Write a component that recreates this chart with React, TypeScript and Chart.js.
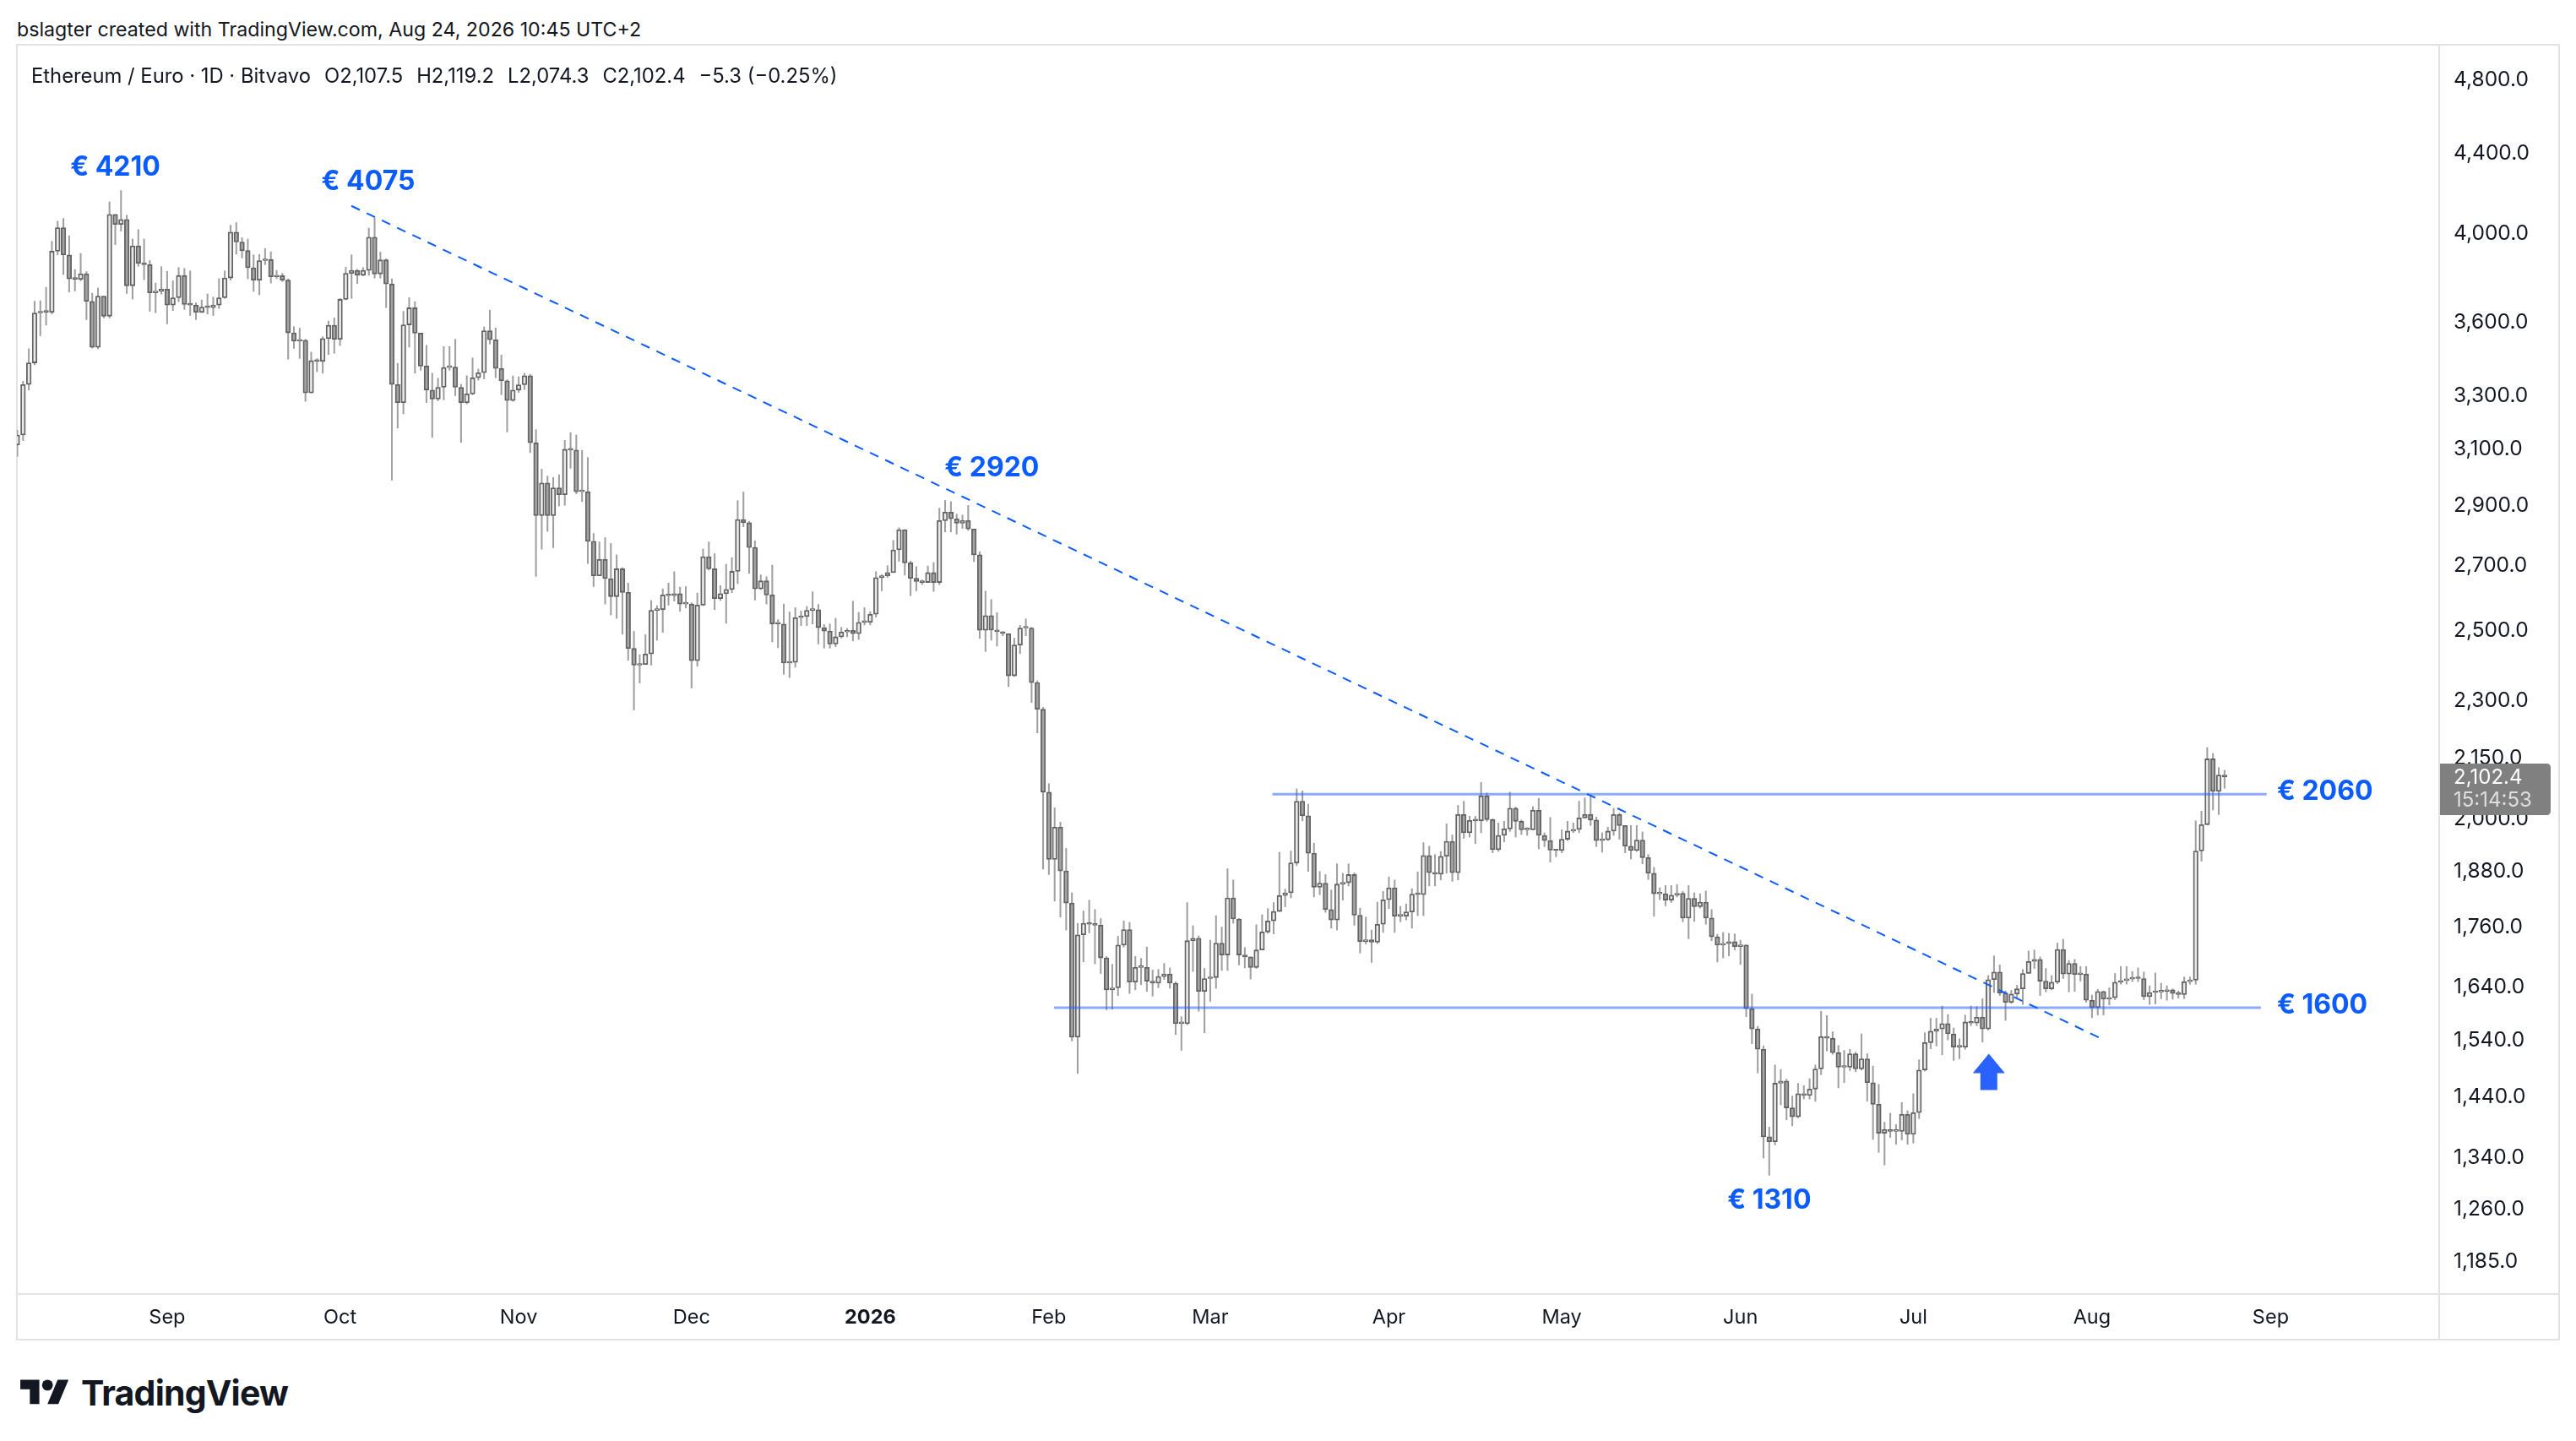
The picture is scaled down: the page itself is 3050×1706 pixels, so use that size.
import React, { useEffect, useRef } from 'react';
import { Chart, registerables } from 'chart.js';

Chart.register(...registerables);

// ---------- DATA (daily candles, Aug 6 2025 = index 0 ... Aug 24 2026 = index 383) ----------
const firstOpen = 3115;

const closes = [
  3152, 3346, 3433, 3642, 3648, 3645, 3918, 4029, 3901, 3792,
  3790, 3815, 3692, 3497, 3715, 3628, 4093, 4044, 4068, 3761,
  3943, 3862, 3856, 3730, 3736, 3746, 3676, 3708, 3807, 3679,
  3676, 3645, 3667, 3665, 3676, 3708, 3796, 4008, 3961, 3921,
  3842, 3786, 3875, 3880, 3801, 3806, 3786, 3557, 3522, 3526,
  3313, 3442, 3439, 3533, 3589, 3530, 3701, 3817, 3830, 3808,
  3830, 3984, 3814, 3878, 3769, 3346, 3275, 3591, 3664, 3556,
  3420, 3324, 3289, 3335, 3414, 3416, 3335, 3275, 3309, 3373,
  3393, 3566, 3528, 3410, 3361, 3283, 3324, 3345, 3381, 3123,
  2865, 2978, 2865, 2961, 2937, 3099, 3096, 2947, 2947, 2779,
  2668, 2720, 2659, 2603, 2690, 2616, 2448, 2400, 2402, 2432,
  2561, 2563, 2608, 2606, 2612, 2580, 2580, 2413, 2577, 2729,
  2690, 2597, 2612, 2625, 2682, 2852, 2841, 2759, 2627, 2652,
  2608, 2520, 2520, 2406, 2408, 2539, 2542, 2561, 2563, 2509,
  2499, 2461, 2482, 2496, 2501, 2491, 2525, 2525, 2549, 2662,
  2668, 2678, 2751, 2818, 2709, 2660, 2650, 2647, 2678, 2647,
  2848, 2877, 2854, 2839, 2848, 2820, 2735, 2501, 2545, 2502,
  2497, 2491, 2370, 2458, 2508, 2508, 2351, 2278, 2065, 1907,
  1981, 1881, 1811, 1545, 1744, 1768, 1766, 1764, 1697, 1634,
  1638, 1723, 1755, 1649, 1678, 1678, 1651, 1647, 1660, 1665,
  1647, 1570, 1570, 1732, 1737, 1631, 1656, 1658, 1727, 1703,
  1822, 1777, 1703, 1699, 1678, 1713, 1750, 1773, 1793, 1827,
  1833, 1899, 2043, 2008, 1921, 1845, 1854, 1797, 1775, 1852,
  1855, 1873, 1785, 1730, 1734, 1729, 1766, 1818, 1844, 1783,
  1783, 1792, 1830, 1829, 1916, 1877, 1874, 1914, 1948, 1877,
  2011, 1968, 1997, 1996, 2056, 1999, 1929, 1962, 1977, 2026,
  1995, 1975, 1975, 2021, 1962, 1950, 1928, 1927, 1953, 1972,
  1976, 2003, 2011, 1998, 1950, 1952, 1972, 2011, 1985, 1937,
  1927, 1951, 1911, 1876, 1831, 1831, 1817, 1828, 1832, 1779,
  1821, 1803, 1813, 1779, 1740, 1723, 1726, 1730, 1720, 1723,
  1598, 1560, 1523, 1373, 1365, 1463, 1467, 1421, 1406, 1445,
  1442, 1453, 1488, 1546, 1543, 1517, 1491, 1491, 1515, 1488,
  1506, 1464, 1427, 1379, 1385, 1382, 1382, 1410, 1377, 1413,
  1486, 1535, 1556, 1560, 1570, 1551, 1527, 1527, 1573, 1571,
  1582, 1560, 1654, 1669, 1628, 1610, 1626, 1636, 1666, 1690,
  1694, 1651, 1636, 1649, 1714, 1665, 1686, 1664, 1665, 1614,
  1600, 1631, 1616, 1619, 1649, 1652, 1655, 1658, 1656, 1621,
  1629, 1630, 1631, 1634, 1627, 1625, 1650, 1653, 1926, 1987,
  2148, 2067, 2107.5, 2102.4,
];

const highs = [
  3170, 3359, 3491, 3693, 3695, 3755, 3964, 4060, 4073, 3990,
  3834, 3908, 3825, 3728, 3751, 3714, 4154, 4093, 4210, 4089,
  3975, 4020, 3975, 3875, 3773, 3847, 3826, 3783, 3843, 3839,
  3828, 3686, 3698, 3725, 3711, 3793, 3828, 4041, 4053, 3981,
  3975, 3901, 3903, 3931, 3915, 3830, 3817, 3792, 3583, 3577,
  3530, 3477, 3450, 3541, 3607, 3621, 3705, 3845, 3901, 3835,
  3843, 4027, 4075, 3914, 3883, 3792, 3431, 3649, 3709, 3691,
  3505, 3505, 3391, 3371, 3500, 3500, 3530, 3347, 3381, 3453,
  3408, 3582, 3654, 3578, 3465, 3365, 3380, 3377, 3391, 3387,
  3172, 3027, 3002, 2997, 3007, 3132, 3161, 3152, 3095, 3069,
  2805, 2777, 2791, 2772, 2735, 2694, 2645, 2498, 2430, 2488,
  2591, 2575, 2627, 2645, 2681, 2632, 2634, 2584, 2614, 2754,
  2777, 2739, 2637, 2705, 2726, 2916, 2946, 2846, 2781, 2671,
  2665, 2702, 2533, 2580, 2556, 2569, 2559, 2573, 2618, 2579,
  2518, 2520, 2537, 2510, 2507, 2589, 2555, 2569, 2557, 2681,
  2672, 2700, 2782, 2824, 2818, 2715, 2697, 2655, 2699, 2710,
  2890, 2917, 2913, 2870, 2867, 2900, 2820, 2745, 2620, 2594,
  2554, 2497, 2491, 2478, 2516, 2535, 2510, 2356, 2283, 2086,
  2027, 1993, 1932, 1833, 1768, 1794, 1817, 1797, 1778, 1700,
  1684, 1741, 1773, 1770, 1700, 1696, 1719, 1673, 1674, 1686,
  1677, 1650, 1583, 1812, 1763, 1742, 1676, 1733, 1784, 1760,
  1886, 1861, 1778, 1718, 1699, 1765, 1786, 1799, 1812, 1923,
  1841, 1926, 2073, 2068, 2036, 1944, 1880, 1873, 1839, 1897,
  1876, 1897, 1877, 1800, 1781, 1754, 1813, 1836, 1868, 1861,
  1804, 1809, 1842, 1879, 1945, 1937, 1918, 1925, 1989, 1963,
  2033, 2043, 2007, 2007, 2089, 2063, 2001, 1991, 1995, 2065,
  2029, 1998, 1980, 2030, 2050, 1968, 2004, 1930, 1975, 1995,
  1991, 2043, 2051, 2057, 2005, 1968, 1981, 2026, 2014, 1985,
  1985, 1985, 1970, 1918, 1889, 1844, 1849, 1849, 1851, 1836,
  1849, 1833, 1831, 1837, 1797, 1745, 1749, 1747, 1746, 1733,
  1724, 1626, 1565, 1529, 1389, 1495, 1487, 1470, 1441, 1463,
  1459, 1471, 1495, 1593, 1585, 1555, 1530, 1521, 1523, 1518,
  1551, 1515, 1493, 1461, 1397, 1412, 1393, 1430, 1416, 1445,
  1504, 1553, 1580, 1580, 1603, 1587, 1562, 1542, 1586, 1603,
  1602, 1617, 1662, 1701, 1683, 1632, 1633, 1643, 1674, 1711,
  1713, 1699, 1676, 1662, 1727, 1735, 1692, 1694, 1680, 1680,
  1624, 1635, 1632, 1638, 1666, 1680, 1680, 1670, 1677, 1669,
  1642, 1667, 1647, 1642, 1636, 1632, 1659, 1659, 1996, 2019,
  2177, 2162, 2126, 2119.2,
];

const lows = [
  3073, 3131, 3324, 3425, 3545, 3590, 3637, 3901, 3811, 3733,
  3738, 3783, 3613, 3493, 3490, 3620, 3620, 3949, 4012, 3727,
  3702, 3849, 3788, 3649, 3643, 3724, 3595, 3652, 3691, 3657,
  3631, 3613, 3643, 3637, 3631, 3661, 3705, 3786, 3904, 3887,
  3792, 3736, 3721, 3856, 3773, 3792, 3780, 3448, 3492, 3451,
  3280, 3313, 3397, 3391, 3467, 3472, 3504, 3699, 3705, 3771,
  3805, 3808, 3795, 3795, 3665, 2988, 3178, 3232, 3497, 3391,
  3403, 3275, 3143, 3282, 3286, 3403, 3302, 3124, 3270, 3306,
  3363, 3368, 3510, 3373, 3306, 3163, 3280, 3315, 3326, 3087,
  2666, 2753, 2812, 2758, 2898, 2900, 3030, 2940, 2913, 2707,
  2634, 2671, 2580, 2547, 2537, 2490, 2414, 2276, 2350, 2402,
  2400, 2472, 2495, 2577, 2589, 2558, 2568, 2336, 2397, 2575,
  2686, 2563, 2591, 2522, 2615, 2643, 2827, 2676, 2592, 2625,
  2580, 2467, 2450, 2374, 2365, 2394, 2515, 2515, 2520, 2461,
  2449, 2449, 2453, 2478, 2482, 2470, 2474, 2517, 2517, 2540,
  2621, 2663, 2678, 2714, 2670, 2606, 2621, 2640, 2647, 2619,
  2640, 2810, 2810, 2803, 2822, 2815, 2713, 2477, 2439, 2472,
  2455, 2485, 2340, 2368, 2433, 2485, 2296, 2215, 1885, 1873,
  1815, 1781, 1754, 1538, 1480, 1689, 1748, 1685, 1666, 1596,
  1597, 1623, 1719, 1627, 1634, 1644, 1631, 1622, 1638, 1654,
  1637, 1550, 1521, 1568, 1670, 1593, 1553, 1612, 1637, 1672,
  1672, 1768, 1683, 1677, 1655, 1676, 1725, 1747, 1746, 1795,
  1803, 1822, 1893, 1996, 1880, 1824, 1829, 1791, 1758, 1754,
  1817, 1848, 1764, 1707, 1725, 1688, 1726, 1749, 1799, 1749,
  1771, 1775, 1758, 1784, 1784, 1848, 1848, 1861, 1876, 1858,
  1861, 1955, 1958, 1943, 1968, 1995, 1922, 1925, 1947, 1971,
  1958, 1964, 1962, 1975, 1931, 1936, 1901, 1913, 1922, 1950,
  1968, 1968, 2003, 1985, 1936, 1923, 1950, 1962, 1953, 1922,
  1908, 1925, 1897, 1862, 1783, 1818, 1805, 1812, 1824, 1771,
  1736, 1772, 1800, 1766, 1732, 1689, 1697, 1701, 1713, 1684,
  1583, 1533, 1481, 1339, 1312, 1360, 1426, 1401, 1391, 1404,
  1436, 1436, 1432, 1478, 1520, 1514, 1455, 1464, 1485, 1483,
  1486, 1432, 1369, 1348, 1328, 1372, 1361, 1368, 1361, 1363,
  1403, 1484, 1524, 1529, 1513, 1540, 1503, 1506, 1523, 1566,
  1566, 1536, 1558, 1629, 1623, 1576, 1608, 1619, 1606, 1666,
  1676, 1623, 1630, 1634, 1646, 1656, 1630, 1631, 1651, 1610,
  1581, 1586, 1586, 1605, 1615, 1645, 1645, 1650, 1650, 1615,
  1606, 1607, 1617, 1614, 1616, 1618, 1617, 1645, 1645, 1903,
  1987, 2022, 2011, 2074.3,
];

const monthTickIndex = [26, 56, 87, 117, 148, 179, 207, 238, 268, 299, 329, 360, 391];
const monthTickLabel = ['Sep', 'Oct', 'Nov', 'Dec', '2026', 'Feb', 'Mar', 'Apr', 'May', 'Jun', 'Jul', 'Aug', 'Sep'];

const priceTicks = [4800, 4400, 4000, 3600, 3300, 3100, 2900, 2700, 2500, 2300, 2150, 2000, 1880, 1760, 1640, 1540, 1440, 1340, 1260, 1185];

// horizontal levels
const levelPrice = [2060, 1600];
const levelFrom = [217.8, 179.9];
const levelTo = [390.3, 389.3];

// dashed trend line (index, price)
const trendIdx = [57.97, 361.9];
const trendPrice = [4134, 1541];

// text notes (anchor index / price)
const noteText = ['€ 4210', '€ 4075', '€ 2920', '€ 1310', '€ 2060', '€ 1600'];
const noteIdx = [17.0, 60.9, 169.1, 304.0, 392.1, 392.1];
const notePrice = [4324, 4251, 3029, 1273, 2065, 1604];
const noteAlign = ['center', 'center', 'center', 'center', 'left', 'left'];

const arrowIdx = 342.1;
const arrowTipPrice = 1515;

const lastPrice = 2102.4;
const countdown = '15:14:53';

// ---------- STYLE ----------
const BLUE_TEXT = '#0a5cff';
const BLUE_LINE = 'rgba(41,98,255,0.55)';
const ARROW = '#2962ff';
const UP_FILL = '#e9e9e9';
const DOWN_FILL = '#a3a3a3';
const CANDLE_BORDER = '#626262';
const WICK = '#a0a0a0';
const AXIS_TEXT = '#131722';
const SEP = '#e3e3e6';
const FONT = 'Inter, "Noto Sans", sans-serif';

const fmtPrice = (v: number) =>
  v.toLocaleString('en-US', { minimumFractionDigits: 1, maximumFractionDigits: 1 });

export default function App() {
  const canvasRef = useRef<HTMLCanvasElement | null>(null);

  useEffect(() => {
    document.body.style.margin = '0';
    const canvas = canvasRef.current;
    if (!canvas) return;

    const opens = closes.map((_, i) => (i === 0 ? firstOpen : closes[i - 1]));
    const bodyData = closes.map((c, i) => ({ x: i, y: [opens[i], c] }));
    const wickData = closes.map((c, i) => ({
      x: i,
      y: [Math.min(lows[i], opens[i], c), Math.max(highs[i], opens[i], c)],
    }));

    const levelSets = levelPrice.map((p, k) => ({
      type: 'line' as const,
      data: [
        { x: levelFrom[k], y: p },
        { x: levelTo[k], y: p },
      ],
      borderColor: BLUE_LINE,
      borderWidth: 3,
      pointRadius: 0,
      order: 1,
    }));

    const overlay = {
      id: 'overlay',
      afterDatasetsDraw(chart: any) {
        const ctx = chart.ctx;
        const xs = chart.scales.x;
        const ys = chart.scales.y;
        ctx.save();
        ctx.fillStyle = BLUE_TEXT;
        ctx.font = `700 32px ${FONT}`;
        ctx.textBaseline = 'middle';
        noteText.forEach((t, k) => {
          ctx.textAlign = noteAlign[k] as CanvasTextAlign;
          ctx.fillText(t, xs.getPixelForValue(noteIdx[k]), ys.getPixelForValue(notePrice[k]));
        });
        const ax = xs.getPixelForValue(arrowIdx);
        const ay = ys.getPixelForValue(arrowTipPrice);
        ctx.fillStyle = ARROW;
        ctx.beginPath();
        ctx.moveTo(ax, ay);
        ctx.lineTo(ax + 19, ay + 23);
        ctx.lineTo(ax + 10, ay + 23);
        ctx.lineTo(ax + 10, ay + 43);
        ctx.lineTo(ax - 10, ay + 43);
        ctx.lineTo(ax - 10, ay + 23);
        ctx.lineTo(ax - 19, ay + 23);
        ctx.closePath();
        ctx.fill();
        ctx.restore();
      },
      afterDraw(chart: any) {
        const ctx = chart.ctx;
        const ca = chart.chartArea;
        const ys = chart.scales.y;
        ctx.save();
        ctx.strokeStyle = SEP;
        ctx.lineWidth = 2;
        ctx.beginPath();
        ctx.moveTo(ca.right + 1, 0);
        ctx.lineTo(ca.right + 1, chart.height);
        ctx.moveTo(0, ca.bottom + 1);
        ctx.lineTo(chart.width, ca.bottom + 1);
        ctx.stroke();
        const y = ys.getPixelForValue(lastPrice);
        const x0 = ca.right + 2;
        const w = 131;
        const top = y - 16;
        const h = 61;
        const r = 5;
        ctx.fillStyle = '#808080';
        ctx.beginPath();
        ctx.moveTo(x0, top);
        ctx.lineTo(x0 + w - r, top);
        ctx.quadraticCurveTo(x0 + w, top, x0 + w, top + r);
        ctx.lineTo(x0 + w, top + h - r);
        ctx.quadraticCurveTo(x0 + w, top + h, x0 + w - r, top + h);
        ctx.lineTo(x0, top + h);
        ctx.closePath();
        ctx.fill();
        ctx.font = `400 24px ${FONT}`;
        ctx.textAlign = 'left';
        ctx.textBaseline = 'middle';
        ctx.fillStyle = '#ffffff';
        ctx.fillText(fmtPrice(lastPrice), ca.right + 18, y + 1);
        ctx.fillStyle = '#dedede';
        ctx.fillText(countdown, ca.right + 18, y + 28);
        ctx.restore();
      },
    };

    const chart = new Chart(canvas, {
      type: 'bar',
      data: {
        datasets: [
          {
            type: 'bar',
            data: wickData as any,
            backgroundColor: WICK,
            borderWidth: 0,
            barThickness: 1.4,
            grouped: false,
            order: 4,
          } as any,
          {
            type: 'bar',
            data: bodyData as any,
            backgroundColor: (c: any) =>
              closes[c.dataIndex] >= opens[c.dataIndex] ? UP_FILL : DOWN_FILL,
            borderColor: CANDLE_BORDER,
            borderWidth: 1.8,
            borderSkipped: false,
            barThickness: 5.6,
            minBarLength: 2,
            grouped: false,
            order: 3,
          } as any,
          ...levelSets,
          {
            type: 'line',
            data: [
              { x: trendIdx[0], y: trendPrice[0] },
              { x: trendIdx[1], y: trendPrice[1] },
            ],
            borderColor: BLUE_TEXT,
            borderWidth: 2,
            borderDash: [11, 9],
            pointRadius: 0,
            order: 0,
          } as any,
        ],
      },
      options: {
        animation: false,
        responsive: false,
        maintainAspectRatio: false,
        layout: { padding: 0 },
        plugins: { legend: { display: false }, tooltip: { enabled: false } },
        scales: {
          x: {
            type: 'linear',
            min: -0.07,
            max: 420.1,
            offset: false,
            grid: { display: false, drawTicks: false },
            border: { display: false },
            afterBuildTicks: (s: any) => {
              s.ticks = monthTickIndex.map((v) => ({ value: v }));
            },
            afterFit: (s: any) => {
              s.height = 55;
              s.paddingLeft = 0;
              s.paddingRight = 0;
              s.paddingTop = 0;
              s.paddingBottom = 0;
            },
            ticks: {
              autoSkip: false,
              maxRotation: 0,
              padding: 15,
              color: AXIS_TEXT,
              font: (c: any) => ({
                family: FONT,
                size: 23.5,
                weight: c.tick && c.tick.label === '2026' ? 'bold' : 'normal',
              }),
              callback: (_v: any, i: number) => monthTickLabel[i],
            },
          },
          y: {
            type: 'logarithmic',
            position: 'right',
            min: 1141,
            max: 4998,
            bounds: 'data',
            grid: { display: false, drawTicks: false },
            border: { display: false },
            afterBuildTicks: (s: any) => {
              s.ticks = priceTicks.map((v) => ({ value: v }));
            },
            afterFit: (s: any) => {
              s.width = 143;
              s.paddingTop = 0;
              s.paddingBottom = 0;
              s.paddingLeft = 0;
              s.paddingRight = 0;
            },
            ticks: {
              autoSkip: false,
              padding: 18,
              color: AXIS_TEXT,
              font: { family: FONT, size: 24.5 },
              callback: (v: any) => fmtPrice(Number(v)),
            },
          },
        },
      } as any,
      plugins: [overlay],
    });

    return () => chart.destroy();
  }, []);

  return (
    <div style={{ position: 'absolute', left: 0, top: 0, width: 3050, height: 1706, background: '#ffffff', overflow: 'hidden', fontFamily: FONT }}>
      <div style={{ position: 'absolute', left: 20, top: 21, fontSize: 23.2, lineHeight: '28px', color: AXIS_TEXT, whiteSpace: 'nowrap' }}>
        bslagter created with TradingView.com, Aug 24, 2026 10:45 UTC+2
      </div>
      <div style={{ position: 'absolute', left: 19, top: 52, width: 3012, height: 1535, border: `2px solid ${SEP}`, boxSizing: 'border-box' }} />
      <canvas ref={canvasRef} width={3010} height={1532} style={{ position: 'absolute', left: 20, top: 54, width: 3010, height: 1532 }} />
      <div style={{ position: 'absolute', left: 37, top: 76, fontSize: 23.8, lineHeight: '28px', color: AXIS_TEXT, whiteSpace: 'nowrap', display: 'flex', gap: 16 }}>
        <span>Ethereum / Euro · 1D · Bitvavo</span>
        <span>O2,107.5</span>
        <span>H2,119.2</span>
        <span>L2,074.3</span>
        <span>C2,102.4</span>
        <span>−5.3 (−0.25%)</span>
      </div>
      <div style={{ position: 'absolute', left: 24, top: 1624, display: 'flex', alignItems: 'center', gap: 14 }}>
        <svg width="58" height="45" viewBox="0 0 36 28">
          <path d="M14 22H7V11H0V4h14v18zM28 22h-8l7.5-18h8L28 22z" fill="#131722" />
          <circle cx="20" cy="8" r="4" fill="#131722" />
        </svg>
        <span style={{ fontSize: 41, fontWeight: 700, letterSpacing: -0.8, color: '#131722' }}>TradingView</span>
      </div>
    </div>
  );
}
